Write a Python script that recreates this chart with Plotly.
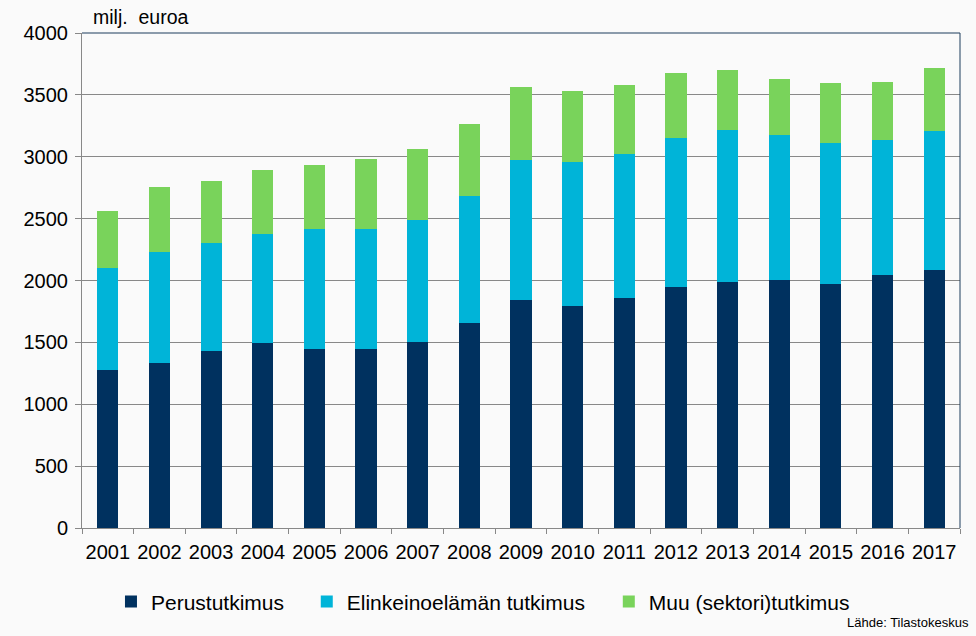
import plotly.graph_objects as go

years = [str(y) for y in range(2001, 2018)]
perustutkimus = [1278, 1333, 1432, 1497, 1448, 1448, 1505, 1659, 1842, 1794, 1858, 1947, 1988, 2004, 1972, 2045, 2085]
elinkeinoelama = [823, 898, 872, 879, 969, 969, 987, 1025, 1133, 1165, 1166, 1206, 1230, 1173, 1141, 1092, 1125]
muu = [461, 524, 499, 518, 517, 566, 571, 582, 591, 574, 558, 526, 485, 453, 484, 469, 509]

names = ["Perustutkimus", "Elinkeinoelämän tutkimus", "Muu (sektori)tutkimus"]
colors = ["#00315f", "#00b4d8", "#79d35b"]
series = [perustutkimus, elinkeinoelama, muu]
legends = ["legend2", "legend3", "legend4"]

FONT = "Liberation Sans, Arial, sans-serif"

fig = go.Figure()
for name, col, vals, lg in zip(names, colors, series, legends):
    fig.add_trace(go.Bar(x=years, y=vals, name=name, marker=dict(color=col, line=dict(width=0)),
                         width=0.41, legend=lg, showlegend=True))

legend_common = dict(orientation="h", yanchor="middle", y=-0.149, xanchor="left",
                     bgcolor="rgba(0,0,0,0)", font=dict(family=FONT, size=21, color="#000000"),
                     itemwidth=30, visible=True)

fig.update_layout(
    width=976, height=636,
    margin=dict(l=82, r=16, t=33, b=108, autoexpand=False),
    paper_bgcolor="#fafafa", plot_bgcolor="#fafafa",
    barmode="stack",
    showlegend=True,
    font=dict(family=FONT, color="#000000"),
    legend2=dict(x=0.033, **legend_common),
    legend3=dict(x=0.256, **legend_common),
    legend4=dict(x=0.600, **legend_common),
    xaxis=dict(showgrid=False, showline=True, linecolor="#888888", linewidth=1,
               ticks="outside", tickson="boundaries", ticklen=5, tickcolor="#888888",
               tickangle=0, automargin=False, ticklabelstandoff=6,
               tickfont=dict(family=FONT, size=20, color="#000000"), fixedrange=True),
    yaxis=dict(range=[0, 4000], dtick=500, showgrid=True, gridcolor="#888888", gridwidth=1,
               showline=True, linecolor="#888888", linewidth=1, zeroline=False,
               ticks="outside", ticklen=6, tickcolor="#888888", automargin=False,
               ticklabelstandoff=3,
               tickfont=dict(family=FONT, size=20, color="#000000")),
    annotations=[
        dict(text="milj.  euroa", xref="paper", yref="paper", x=0.010, y=1.0, xanchor="left",
             yanchor="bottom", yshift=3, showarrow=False,
             font=dict(family=FONT, size=19.5, color="#000000")),
        dict(text="Lähde: Tilastokeskus", xref="paper", yref="paper", x=1.013, y=-0.19,
             xanchor="right", yanchor="middle", showarrow=False,
             font=dict(family="Liberation Sans Narrow, Arial Narrow, " + FONT, size=13, color="#000000")),
    ],
    shapes=[
        dict(type="line", xref="paper", yref="paper", x0=0, x1=1, y0=1, y1=1,
             line=dict(color="#1d3d5c", width=1)),
        dict(type="line", xref="paper", yref="paper", x0=1, x1=1, y0=0, y1=1,
             line=dict(color="#1d3d5c", width=1)),
    ],
)

fig.write_html("out.html", config={"displayModeBar": False},
               post_script="document.body.style.margin='0';document.body.style.background='#fafafa';")
